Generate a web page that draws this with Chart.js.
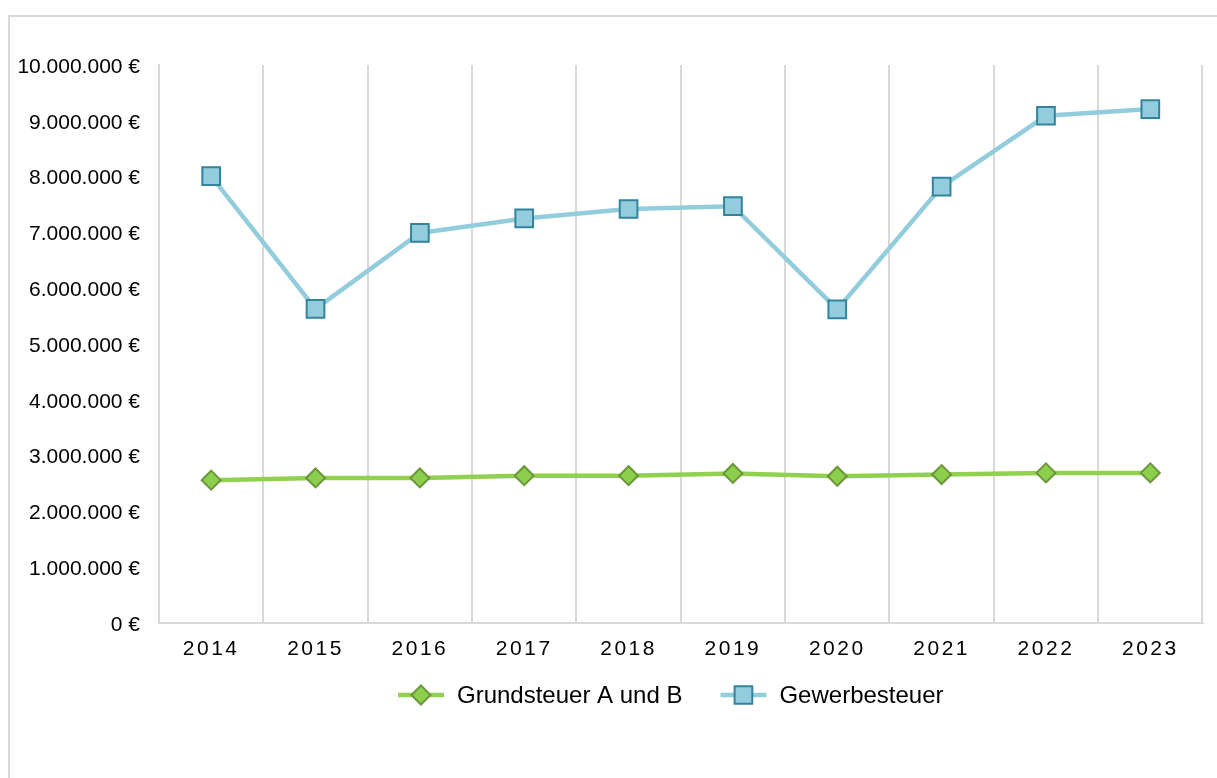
<!DOCTYPE html>
<html lang="de">
<head>
    <meta charset="UTF-8">
    <title>Steuereinnahmen 2014 - 2023</title>
    <script src="https://cdn.jsdelivr.net/npm/chart.js"></script>
    <style>
        body { margin: 0; background: #fff; overflow: hidden; }
        .frame {
            position: absolute; left: 8px; top: 15px;
            width: 1400px; height: 900px;
            border: 2px solid #d9d9d9;
        }
        .wrap { position: absolute; left: 0; top: 0; width: 1217px; height: 778px; }
    </style>
</head>
<body>
    <div class="frame"></div>
    <div class="wrap">
        <canvas id="taxChart" width="1217" height="778"></canvas>
    </div>

    <script>
        // Jahre und Werte
        const years = ['2014', '2015', '2016', '2017', '2018', '2019', '2020', '2021', '2022', '2023'];
        const grundsteuer = [2560000, 2600000, 2600000, 2640000, 2640000, 2680000, 2630000, 2660000, 2690000, 2690000];
        const gewerbesteuer = [8010000, 5630000, 6990000, 7250000, 7420000, 7470000, 5620000, 7820000, 9090000, 9210000];
        const seriesNames = ['Grundsteuer A und B', 'Gewerbesteuer'];

        const FONT = '"Liberation Sans", Arial, sans-serif';

        // 10000000 -> "10.000.000 €"
        function euro(v) {
            return String(Math.round(v)).replace(/\B(?=(\d{3})+(?!\d))/g, '.') + ' €';
        }

        // small tweaks on the axis labels: letter spacing on the years, y labels a bit lower
        const labelTweaks = {
            id: 'labelTweaks',
            afterUpdate(chart) {
                const x = chart.scales.x, y = chart.scales.y;
                if (x && !x._tweaked) {
                    const orig = x.drawLabels.bind(x);
                    x.drawLabels = function (area) {
                        this.ctx.save();
                        this.ctx.letterSpacing = '2.5px';
                        orig(area);
                        this.ctx.restore();
                    };
                    x._tweaked = true;
                }
                if (y && !y._tweaked) {
                    const orig = y.drawLabels.bind(y);
                    y.drawLabels = function (area) {
                        this.ctx.save();
                        this.ctx.translate(0, 2);
                        orig(area);
                        this.ctx.restore();
                    };
                    y._tweaked = true;
                }
            }
        };

        // legend: line with marker, like the Excel style
        const lineLegend = {
            id: 'lineLegend',
            afterDraw(chart) {
                const ctx = chart.ctx;
                const y = 695;
                const lineLen = 46, gap = 13, itemGap = 38;
                ctx.save();
                ctx.font = '24px ' + FONT;
                ctx.textBaseline = 'middle';
                const items = chart.data.datasets.map(ds => ({ ds, w: ctx.measureText(ds.label).width }));
                const total = items.reduce((a, it) => a + lineLen + gap + it.w, 0) + itemGap * (items.length - 1);
                let x = (chart.chartArea.left + chart.chartArea.right) / 2 - 10 - total / 2;
                items.forEach(it => {
                    const ds = it.ds;
                    ctx.strokeStyle = ds.borderColor;
                    ctx.lineWidth = ds.borderWidth;
                    ctx.beginPath();
                    ctx.moveTo(x, y);
                    ctx.lineTo(x + lineLen, y);
                    ctx.stroke();
                    ctx.fillStyle = ds.pointBackgroundColor;
                    ctx.strokeStyle = ds.pointBorderColor;
                    ctx.lineWidth = ds.pointBorderWidth;
                    Chart.helpers.drawPoint(ctx, { pointStyle: ds.pointStyle, radius: ds.pointRadius, borderWidth: ds.pointBorderWidth, rotation: 0 }, x + lineLen / 2, y);
                    ctx.fillStyle = '#000';
                    ctx.fillText(ds.label, x + lineLen + gap, y + 1);
                    x += lineLen + gap + it.w + itemGap;
                });
                ctx.restore();
            }
        };

        const ctx = document.getElementById('taxChart').getContext('2d');

        new Chart(ctx, {
            type: 'line',
            data: {
                labels: years,
                datasets: [{
                    label: seriesNames[0],
                    data: grundsteuer,
                    borderColor: '#92d050',
                    borderWidth: 4.5,
                    pointStyle: 'rectRot',
                    pointRadius: 9.5,
                    pointHoverRadius: 9.5,
                    pointBackgroundColor: '#8ccf4d',
                    pointBorderColor: '#6b963a',
                    pointBorderWidth: 2,
                    tension: 0,
                    fill: false
                }, {
                    label: seriesNames[1],
                    data: gewerbesteuer,
                    borderColor: '#93cddd',
                    borderWidth: 4.5,
                    pointStyle: 'rect',
                    pointRadius: 12.5,
                    pointHoverRadius: 12.5,
                    pointBackgroundColor: '#93cddd',
                    pointBorderColor: '#31849b',
                    pointBorderWidth: 2,
                    tension: 0,
                    fill: false
                }]
            },
            options: {
                responsive: false,
                animation: false,
                devicePixelRatio: 1,
                layout: { padding: { top: 65, right: 13, bottom: 0, left: 0 } },
                plugins: {
                    legend: { display: false },
                    tooltip: { enabled: false }
                },
                scales: {
                    x: {
                        offset: true,
                        grid: { display: true, offset: true, color: '#d9d9d9', lineWidth: 2, drawTicks: false },
                        border: { display: true, color: '#d9d9d9', width: 2 },
                        ticks: { color: '#000', font: { family: FONT, size: 21 }, padding: 14, maxRotation: 0 },
                        afterFit(scale) { scale.height = 155; }
                    },
                    y: {
                        min: 0,
                        max: 10000000,
                        grid: { display: false, drawTicks: false },
                        border: { display: true, color: '#d9d9d9', width: 2 },
                        ticks: {
                            stepSize: 1000000,
                            color: '#000',
                            font: { family: FONT, size: 21 },
                            padding: 19,
                            callback: v => euro(v)
                        },
                        afterFit(scale) { scale.width = 159; }
                    }
                }
            },
            plugins: [labelTweaks, lineLegend]
        });
    </script>
</body>
</html>
